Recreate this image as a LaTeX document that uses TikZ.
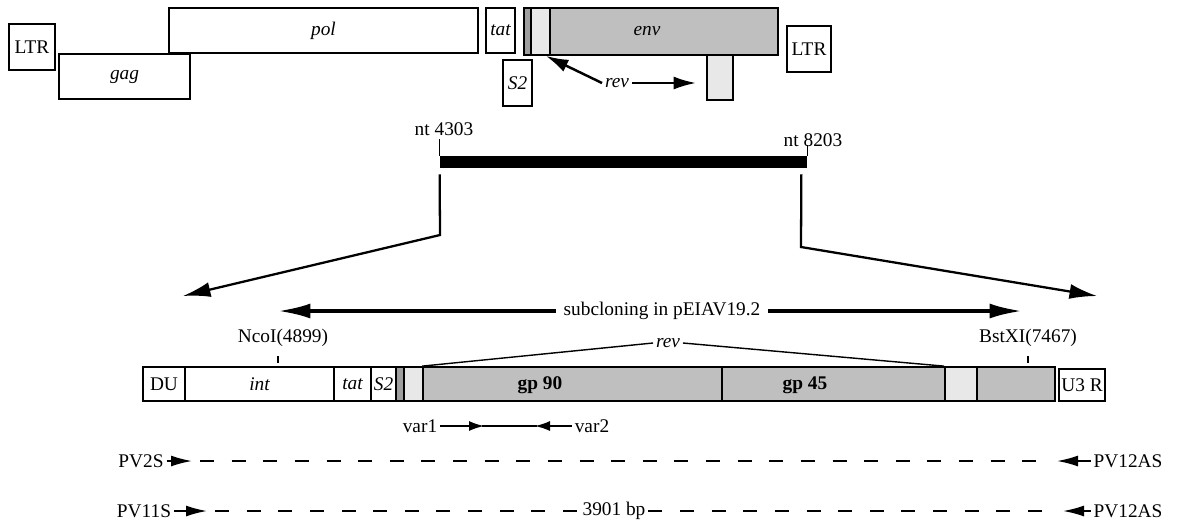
\documentclass[tikz,border=0pt]{standalone}
\usepackage{fontspec}
\setmainfont{Liberation Serif}
\usetikzlibrary{arrows.meta, positioning, fit}

\begin{document}
\begin{tikzpicture}[x=0.02cm, y=-0.02cm,
                    every node/.style={font=\fontsize{11}{13}\selectfont, inner sep=1.5pt},
                    box/.style={draw, line width=1pt, inner sep=0pt},
                    gene/.style={box, label={[font=\fontsize{11}{13}\selectfont\itshape]center:#1}},
                    plain/.style={box, label={center:#1}},
                    shade/.style={box, fill=gray!50},
                    light/.style={box, fill=gray!18},
                    dark/.style={box, fill=gray!75},
                    bigarrow/.style={line width=1.3pt, -{Latex[length=0.55cm, width=0.3cm]}},
                    clonearrow/.style={line width=2pt, -{Latex[length=0.65cm, width=0.3cm]}},
                    revarrow/.style={line width=1.4pt, -{Latex[length=0.45cm, width=0.26cm]}},
                    vararrow/.style={line width=0.8pt, -{Latex[length=0.3cm, width=0.2cm]}},
                    pvarrow/.style={line width=1pt, -{Latex[length=0.42cm, width=0.22cm]}},
                    dashline/.style={line width=1.1pt, dash pattern=on 8pt off 10pt}]
    \useasboundingbox (0,0) rectangle (1177,529);

    % genome map
    \node[plain=LTR, fit={(9,24) (55,70)}] (ltrL) {};
    \node[gene=gag, fit={(59,54) (190,99)}] (gag) {};
    \node[gene=pol, fit={(169,8) (478,53)}] (pol) {};
    \node[gene=tat, fit={(486,8) (515,53)}] (tat) {};
    \node[gene=S2, fit={(503,60) (532,106)}] (stwo) {};
    \node[shade, fit={(524,8) (778,55)}] (env) {};
    \node[dark, fit={(524,8) (531,55)}] (envA) {};
    \node[light, fit={(531,8) (550,55)}] (revA) {};
    \node[font=\fontsize{11}{13}\selectfont\itshape] (envtxt) at (647,31) {env};
    \node[light, fit={(707,55) (733,100)}] (revB) {};
    \node[plain=LTR, fit={(787,26) (831,72)}] (ltrR) {};

    \node[font=\fontsize{11}{13}\selectfont\itshape] (revtxt) at (617,83) {rev};
    \draw[revarrow] (revtxt.west) -- ([xshift=-0.1cm]revA.south east);
    \draw[revarrow, shorten >=0.2cm] (revtxt.east) -- (revB.west |- revtxt);

    % cloned fragment
    \node[fill, inner sep=0pt, fit={(440,156) (807,168)}] (frag) {};
    \node (ntA) at (444,129) {nt 4303};
    \node (ntB) at (813,140) {nt 8203};
    \draw[line width=0.8pt] (frag.north west) -- (frag.north west |- ntA.south);
    \draw[line width=0.8pt] (frag.north east) -- ([yshift=0.1cm]frag.north east |- ntB.south);

    \coordinate (bendL) at (440,235);
    \coordinate (tipL) at (183,296);
    \coordinate (bendR) at (801,247);
    \coordinate (tipR) at (1097,296);
    \draw[bigarrow] ([yshift=-0.12cm]frag.south west) -- (bendL) -- (tipL);
    \draw[bigarrow] ([xshift=-0.12cm, yshift=-0.12cm]frag.south east) -- (bendR) -- (tipR);

    \node (subcl) at (662,311) {subcloning in pEIAV19.2};
    \draw[clonearrow] ([xshift=-0.1cm]subcl.west) -- (278,311);
    \draw[clonearrow] ([xshift=0.1cm]subcl.east) -- (1022,311);

    % expanded region
    \node[plain=DU, fit={(143,367) (185,401)}] (du) {};
    \node[gene=int, fit={(185,367) (334,401)}] (int) {};
    \node[gene=tat, fit={(334,367) (371,401)}] (tatB) {};
    \node[gene=S2, fit={(371,367) (396,401)}] (stwoB) {};
    \node[dark, fit={(396,367) (404,401)}] (darkB) {};
    \node[light, fit={(404,367) (423,401)}] (lightB) {};
    \node[shade, fit={(423,367) (722,401)}] (gpa) {};
    \node[font=\fontsize{11}{13}\selectfont\bfseries] (gpatxt) at (540,385) {gp 90};
    \node[shade, fit={(722,367) (945,401)}] (gpb) {};
    \node[font=\fontsize{11}{13}\selectfont\bfseries] (gpbtxt) at (805,385) {gp 45};
    \node[light, fit={(945,367) (977,401)}] (lightC) {};
    \node[shade, fit={(977,367) (1055,401)}] (darkC) {};
    \node[plain={U3 R}, fit={(1059,369) (1105,401)}] (uthree) {};

    \node (nco) at (283,338) {NcoI(4899)};
    \draw[line width=0.8pt] (278,356) -- (278,363);
    \node (bst) at (1028,338) {BstXI(7467)};
    \draw[line width=0.8pt] (1028,356) -- (1028,363);

    \node[font=\fontsize{11}{13}\selectfont\itshape] (revtxtB) at (668,343) {rev};
    \draw[line width=0.8pt] (gpa.north west) -- (revtxtB.west);
    \draw[line width=0.8pt] (revtxtB.east) -- (lightC.north west);

    % primers
    \node (varone) at (420,426) {var1};
    \node (vartwo) at (592,426) {var2};
    \draw[vararrow] (varone.east) -- (484,426);
    \draw[line width=0.8pt] (482,426) -- (537,426);
    \draw[vararrow] (vartwo.west) -- (535,426);

    \node (pvtwo) at (141,461) {PV2S};
    \node (pvtwelveA) at (1128,461) {PV12AS};
    \draw[pvarrow] (pvtwo.east) -- (192,461);
    \draw[dashline] (200,461) -- (1050,461);
    \draw[pvarrow] (pvtwelveA.west) -- (1057,461);

    \node (pveleven) at (144,511) {PV11S};
    \node (bp) at (614,511) {3901 bp};
    \node (pvtwelveB) at (1128,511) {PV12AS};
    \draw[pvarrow] (pveleven.east) -- (207,511);
    \draw[dashline] (215,511) -- (bp.west);
    \draw[dashline] (bp.east) -- (1055,511);
    \draw[pvarrow] (pvtwelveB.west) -- (1063,511);
\end{tikzpicture}
\end{document}
